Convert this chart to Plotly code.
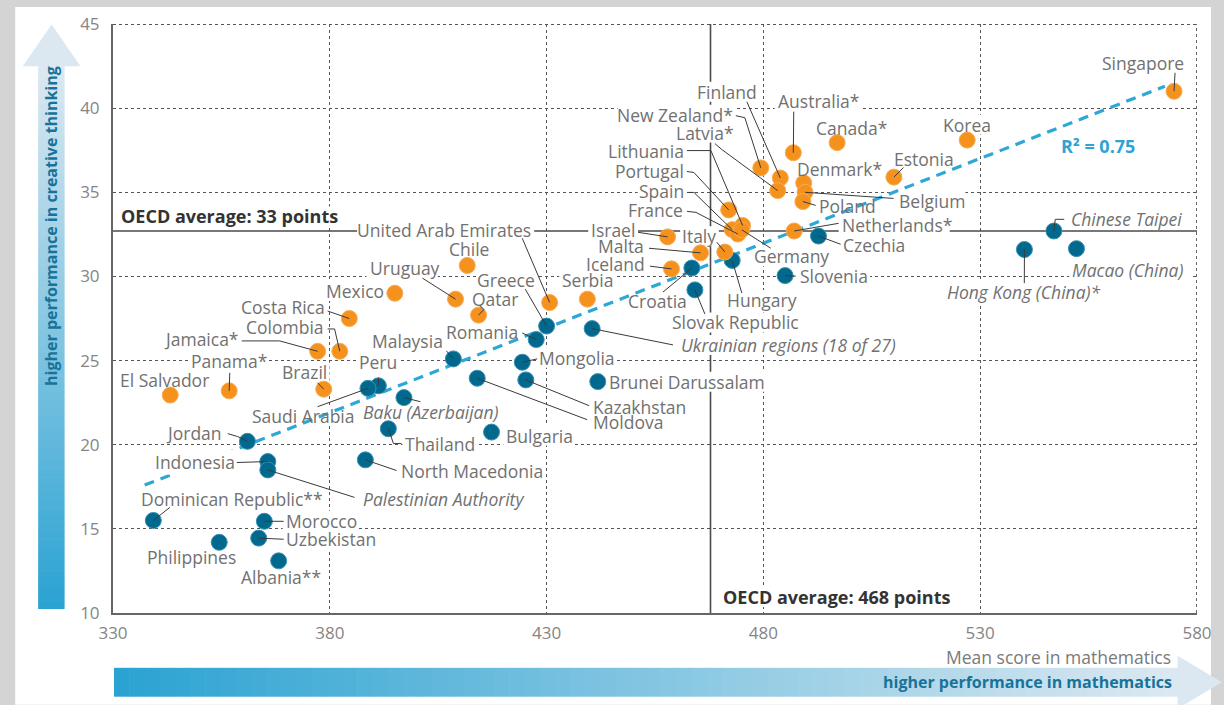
import plotly.graph_objects as go

# ---------------- data ----------------
above_names = ["Singapore", "Korea", "Canada*", "Estonia", "Australia*", "Finland",
               "New Zealand*", "Latvia*", "Denmark*", "Belgium", "Poland", "Portugal",
               "Lithuania", "Spain", "France", "Germany", "Israel", "Italy", "Malta",
               "Iceland", "Netherlands*", "Serbia", "United Arab Emirates", "Chile",
               "Uruguay", "Qatar", "Mexico", "Costa Rica", "Colombia", "Jamaica*",
               "Brazil", "Panama*", "El Salvador"]
above_math = [574.7, 527.0, 497.0, 510.1, 486.9, 483.9,
              479.4, 483.3, 489.3, 489.6, 489.1, 472.0,
              475.2, 472.8, 474.1, 475.0, 457.9, 471.1, 465.5,
              458.8, 487.1, 439.4, 430.7, 411.7,
              409.0, 414.3, 395.0, 384.5, 382.3, 377.2,
              378.6, 356.8, 343.2]
above_creative = [41.0, 38.1, 37.95, 35.9, 37.35, 35.85,
                  36.45, 35.1, 35.55, 35.0, 34.45, 33.95,
                  33.03, 32.78, 32.52, 32.77, 32.35, 31.45, 31.4,
                  30.45, 32.7, 28.65, 28.45, 30.65,
                  28.65, 27.7, 29.0, 27.5, 25.55, 25.55,
                  23.3, 23.2, 22.95]

other_names = ["Chinese Taipei", "Hong Kong (China)*", "Macao (China)", "Czechia",
               "Slovenia", "Hungary", "Croatia", "Slovak Republic",
               "Ukrainian regions (18 of 27)", "Greece", "Romania", "Malaysia",
               "Mongolia", "Kazakhstan", "Moldova", "Brunei Darussalam", "Bulgaria",
               "Baku (Azerbaijan)", "Peru", "Saudi Arabia", "Thailand",
               "North Macedonia", "Jordan", "Indonesia", "Palestinian Authority",
               "Dominican Republic**", "Morocco", "Uzbekistan", "Philippines",
               "Albania**"]
other_math = [547.0, 540.2, 552.2, 492.7,
              485.0, 472.8, 463.5, 464.2,
              440.5, 430.0, 427.6, 408.5,
              424.4, 425.2, 414.0, 441.8, 417.3,
              397.1, 391.2, 388.8, 393.5,
              388.2, 361.0, 365.7, 365.7,
              339.3, 364.9, 363.6, 354.5,
              368.2]
other_creative = [32.7, 31.6, 31.65, 32.4,
                  30.05, 30.95, 30.5, 29.2,
                  26.9, 27.05, 26.25, 25.1,
                  24.9, 23.85, 23.95, 23.75, 20.75,
                  22.8, 23.5, 23.35, 20.95,
                  19.1, 20.2, 19.0, 18.5,
                  15.5, 15.45, 14.45, 14.2,
                  13.1]

italic_names = {"Chinese Taipei", "Hong Kong (China)*", "Macao (China)",
                "Ukrainian regions (18 of 27)", "Baku (Azerbaijan)",
                "Palestinian Authority"}

trend_math = [337.3, 572.6]
trend_creative = [17.6, 41.3]
r_squared = 0.75

oecd_math = 468
oecd_math_line = 467.8
oecd_creative = 33
oecd_creative_line = 32.7

x_ticks = [330, 380, 430, 480, 530, 580]
y_ticks = [10, 15, 20, 25, 30, 35, 40, 45]

# ---------------- layout geometry ----------------
W, H = 1224, 705
L, R, T, B = 113, 25, 22, 92
PW, PH = W - L - R, H - T - B
XMIN, XMAX, YMIN, YMAX = 330, 580, 10, 45


def px2x(px):
    return XMIN + (px - L) / PW * (XMAX - XMIN)


def py2y(py):
    return YMAX - (py - T) / PH * (YMAX - YMIN)


def px2p(px):
    return (px - L) / PW


def py2p(py):
    return (T + PH - py) / PH


def text_width(s, size, bold=False):
    w = 0.0
    for ch in s:
        if ch in "il.,:;'!|":
            w += 0.26
        elif ch in "jI ":
            w += 0.27
        elif ch in "ft()":
            w += 0.34
        elif ch == "r":
            w += 0.41
        elif ch == "*":
            w += 0.55
        elif ch in "mM":
            w += 0.92
        elif ch in "wW":
            w += 0.8
        elif ch.isdigit():
            w += 0.57
        elif ch.isupper():
            w += 0.65
        else:
            w += 0.56
    return w * size * (1.06 if bold else 1.0)


ORANGE = "#F5921E"
BLUE = "#01698E"
TREND = "#2DA7D6"
LABEL_COLOR = "#717171"
LEADER = "#3a3a3a"
FONT = "Open Sans"
LABEL_SIZE = 17.5

fig = go.Figure()

# trend line
fig.add_trace(go.Scatter(x=trend_math, y=trend_creative, mode="lines",
                         line=dict(color=TREND, width=3.2, dash="10px,7px"),
                         hoverinfo="skip"))
fig.add_trace(go.Scatter(x=other_math, y=other_creative, mode="markers",
                         marker=dict(color=BLUE, size=16,
                                     line=dict(color="#3c8fb0", width=1)),
                         text=other_names, hoverinfo="text"))
fig.add_trace(go.Scatter(x=above_math, y=above_creative, mode="markers",
                         marker=dict(color=ORANGE, size=16,
                                     line=dict(color="#f7ab55", width=1)),
                         text=above_names, hoverinfo="text"))

points = {}
for n, xv, yv in zip(above_names, above_math, above_creative):
    points[n] = (xv, yv)
for n, xv, yv in zip(other_names, other_math, other_creative):
    points[n] = (xv, yv)

# label placement in reference pixels: (x, y, xanchor, leader points)
label_pos = {
    "Singapore": (1187, 61, "right", [(1177, 71)]),
    "Korea": (969, 123, "center", []),
    "Canada*": (853, 126, "center", []),
    "Estonia": (894, 157, "left", [(905, 166)]),
    "Australia*": (778, 99, "left", [(795, 110)]),
    "Finland": (759, 90, "right", [(748, 100)]),
    "New Zealand*": (735, 113, "right", [(737, 114), (746, 116)]),
    "Latvia*": (736, 131, "right", [(716, 142), (723, 148)]),
    "Lithuania": (686, 149, "right", [(688, 149), (712, 149)]),
    "Portugal": (686, 169, "right", [(688, 170), (695, 171)]),
    "Spain": (686, 190, "right", [(688, 191), (695, 191)]),
    "France": (685, 209, "right", [(688, 210), (697, 211)]),
    "Germany": (754, 255, "left", [(772, 247)]),
    "Israel": (637, 229, "right", [(639, 231)]),
    "Italy": (718, 235, "right", [(718, 241)]),
    "Malta": (646, 245, "right", [(650, 247)]),
    "Iceland": (647, 263, "right", [(651, 265)]),
    "Croatia": (628, 300, "left", [(664, 291)]),
    "Slovak Republic": (672, 321.5, "left", [(706, 313)]),
    "Hungary": (727, 299, "left", [(743, 292)]),
    "Slovenia": (800, 275, "left", [(797, 275)]),
    "Czechia": (843, 244, "left", [(842, 243)]),
    "Netherlands*": (842, 224, "left", [(840, 222)]),
    "Belgium": (899, 200, "left", [(895, 197)]),
    "Poland": (819, 205, "left", [(817, 204)]),
    "Denmark*": (797, 167, "left", []),
    "Chinese Taipei": (1072, 218, "left", [(1066, 218), (1057, 218)]),
    "Macao (China)": (1073, 268.5, "left", []),
    "Hong Kong (China)*": (948, 291, "left", [(1026, 282)]),
    "Ukrainian regions (18 of 27)": (681, 344, "left", [(674, 344)]),
    "Brunei Darussalam": (609, 381, "left", []),
    "Kazakhstan": (593, 406, "left", [(590, 405)]),
    "Moldova": (593, 421.5, "left", [(588, 419)]),
    "Bulgaria": (506, 435, "left", []),
    "Mongolia": (539, 357, "left", [(538, 358)]),
    "Romania": (520, 331.5, "right", [(523, 332)]),
    "Greece": (537, 279, "right", [(526, 288)]),
    "United Arab Emirates": (533, 228.5, "right", [(523, 237)]),
    "Serbia": (562, 279, "left", []),
    "Chile": (470, 248, "center", []),
    "Uruguay": (369, 266.5, "left", [(423, 277)]),
    "Qatar": (472, 297.5, "left", [(485, 308)]),
    "Mexico": (385, 290, "right", []),
    "Costa Rica": (326, 305.5, "right", [(328, 310)]),
    "Colombia": (325, 326, "right", [(328, 328), (335, 328)]),
    "Jamaica*": (240, 338, "right", [(242, 340), (280, 340)]),
    "Panama*": (229, 360, "center", [(230, 372)]),
    "El Salvador": (165, 379, "center", []),
    "Brazil": (328, 371.5, "right", [(318, 382)]),
    "Malaysia": (445, 340.5, "right", [(447, 350)]),
    "Peru": (378, 361.5, "center", [(379, 377)]),
    "Saudi Arabia": (304, 415, "center", [(318, 406)]),
    "Baku (Azerbaijan)": (362, 411, "left", [(421, 401)]),
    "Thailand": (405, 443, "left", [(402, 443), (394, 443)]),
    "North Macedonia": (401, 471, "left", [(397, 470)]),
    "Jordan": (223, 432.5, "right", [(228, 433), (238, 436)]),
    "Indonesia": (236, 461, "right", [(237, 462)]),
    "Palestinian Authority": (362, 498.5, "left", [(355, 497)]),
    "Dominican Republic**": (140, 499, "left", [(170, 507)]),
    "Morocco": (285, 520.5, "left", [(284, 521)]),
    "Uzbekistan": (285, 539, "left", [(284, 539)]),
    "Philippines": (192, 557, "center", []),
    "Albania**": (281, 576.5, "center", []),
}
# labels whose own box must also hide the dashed trend line
trend_masking = {"Indonesia"}

# ---------------- background panel & gradient arrows ----------------
fig.add_shape(type="rect", xref="paper", yref="paper",
              x0=px2p(15), x1=px2p(1213), y0=py2p(705), y1=py2p(5),
              fillcolor="white", line_width=0, layer="below")


def lerp(c1, c2, t):
    a = [int(c1[i:i + 2], 16) for i in (1, 3, 5)]
    b = [int(c2[i:i + 2], 16) for i in (1, 3, 5)]
    return "rgb(%d,%d,%d)" % tuple(round(a[k] + (b[k] - a[k]) * t) for k in range(3))


LIGHT = "#dce8f1"
DEEP = "#2aa3d2"
NSL = 70
# vertical arrow (creative thinking)
vt, vb, vl, vr = 64, 609, 38, 64.5
for i in range(NSL):
    y0 = vt + (vb - vt) * i / NSL
    y1 = vt + (vb - vt) * (i + 1) / NSL + 0.6
    fig.add_shape(type="rect", xref="paper", yref="paper",
                  x0=px2p(vl), x1=px2p(vr), y0=py2p(min(y1, vb)), y1=py2p(y0),
                  fillcolor=lerp(LIGHT, DEEP, (i + 0.5) / NSL), line_width=0)
fig.add_shape(type="path", xref="paper", yref="paper",
              path="M %f,%f L %f,%f L %f,%f Z" % (px2p(22.5), py2p(64.5), px2p(51.5), py2p(22.5),
                                                 px2p(80.5), py2p(64.5)),
              fillcolor=LIGHT, line_width=0)
# horizontal arrow (mathematics)
hl, hr, ht, hb = 114, 1180, 668, 697
for i in range(NSL):
    x0 = hl + (hr - hl) * i / NSL
    x1 = hl + (hr - hl) * (i + 1) / NSL + 0.6
    fig.add_shape(type="rect", xref="paper", yref="paper",
                  x0=px2p(x0), x1=px2p(min(x1, hr)), y0=py2p(hb), y1=py2p(ht),
                  fillcolor=lerp(DEEP, LIGHT, (i + 0.5) / NSL), line_width=0)
fig.add_shape(type="path", xref="paper", yref="paper",
              path="M %f,%f L %f,%f L %f,%f Z" % (px2p(1179.5), py2p(656), px2p(1224), py2p(682.5),
                                                 px2p(1179.5), py2p(709)),
              fillcolor=LIGHT, line_width=0)

# ---------------- reference lines (between grid and markers) ----------------
fig.add_shape(type="line", xref="x", yref="y", x0=XMIN, x1=XMAX,
              y0=oecd_creative_line, y1=oecd_creative_line,
              line=dict(color="#4a4a4a", width=1.6), layer="between")
fig.add_shape(type="line", xref="x", yref="y", x0=oecd_math_line, x1=oecd_math_line,
              y0=YMIN, y1=YMAX, line=dict(color="#4a4a4a", width=1.6), layer="between")
# top / right frame (dotted)
fig.add_shape(type="line", xref="x", yref="y", x0=XMIN, x1=XMAX, y0=YMAX, y1=YMAX,
              line=dict(color="#555555", width=1.8, dash="dot"))
fig.add_shape(type="line", xref="x", yref="y", x0=XMAX, x1=XMAX, y0=YMIN, y1=YMAX,
              line=dict(color="#555555", width=1.8, dash="dot"))


def mask(px, py, anchor, width, half_h=10, pad=2):
    if anchor == "left":
        a, b = px - pad, px + width + pad
    elif anchor == "right":
        a, b = px - width - pad, px + pad
    else:
        a, b = px - width / 2 - pad, px + width / 2 + pad
    fig.add_shape(type="rect", xref="x", yref="y",
                  x0=px2x(a), x1=px2x(b), y0=py2y(py + half_h), y1=py2y(py - half_h),
                  fillcolor="white", line_width=0, layer="between")


# ---------------- labels and leaders ----------------
for name, (lx, ly, anc, leader) in label_pos.items():
    pxv, pyv = points[name]
    txt = "<i>%s</i>" % name if name in italic_names else name
    mask(lx, ly, anc, text_width(name, LABEL_SIZE))
    if leader:
        pts = [(px2x(a), py2y(b)) for a, b in leader] + [(pxv, pyv)]
        path = "M " + " L ".join("%f,%f" % p for p in pts)
        fig.add_shape(type="path", xref="x", yref="y", path=path,
                      line=dict(color=LEADER, width=1))
    fig.add_annotation(x=px2x(lx), y=py2y(ly), xref="x", yref="y", text=txt,
                       showarrow=False, xanchor=anc, yanchor="middle",
                       font=dict(family=FONT, size=LABEL_SIZE, color=LABEL_COLOR),
                       bgcolor="white" if name in trend_masking else "rgba(0,0,0,0)",
                       borderpad=0)

oecd_y_text = "OECD average: %d points" % oecd_creative
oecd_x_text = "OECD average: %d points" % oecd_math
mask(119, 215, "left", text_width(oecd_y_text, 18, True))
mask(722, 597, "left", text_width(oecd_x_text, 18, True))
fig.add_annotation(x=px2x(119), y=py2y(215), xref="x", yref="y",
                   text="<b>%s</b>" % oecd_y_text,
                   showarrow=False, xanchor="left", yanchor="middle",
                   font=dict(family=FONT, size=18, color="#333333"))
fig.add_annotation(x=px2x(722), y=py2y(597), xref="x", yref="y",
                   text="<b>%s</b>" % oecd_x_text,
                   showarrow=False, xanchor="left", yanchor="middle",
                   font=dict(family=FONT, size=18, color="#333333"))
fig.add_annotation(x=px2x(1061), y=py2y(144), xref="x", yref="y",
                   text="<b>R² = %.2f</b>" % r_squared,
                   showarrow=False, xanchor="left", yanchor="middle",
                   font=dict(family=FONT, size=18, color="#2EA3D2"))

# arrow texts
fig.add_annotation(x=px2p(51.5), y=py2p(225), xref="paper", yref="paper",
                   text="<b>higher performance in creative thinking</b>",
                   showarrow=False, textangle=-90, xanchor="center", yanchor="middle",
                   font=dict(family=FONT, size=16, color="#17739A"))
fig.add_annotation(x=px2p(1176), y=py2p(682), xref="paper", yref="paper",
                   text="<b>higher performance in mathematics</b>",
                   showarrow=False, xanchor="right", yanchor="middle",
                   font=dict(family=FONT, size=16, color="#17739A"))
fig.add_annotation(x=px2p(1175), y=py2p(657), xref="paper", yref="paper",
                   text="Mean score in mathematics",
                   showarrow=False, xanchor="right", yanchor="middle",
                   font=dict(family=FONT, size=17.5, color="#7a7a7a"))

fig.update_layout(
    width=W, height=H,
    margin=dict(l=L, r=R, t=T, b=B, pad=0),
    paper_bgcolor="#d4d4d4",
    plot_bgcolor="white",
    showlegend=False,
    font=dict(family=FONT, color=LABEL_COLOR),
    xaxis=dict(range=[XMIN, XMAX], tickvals=x_ticks, ticks="",
               showgrid=True, gridcolor="#555555", gridwidth=1, griddash="dot",
               showline=True, linecolor="#666666", linewidth=2, zeroline=False,
               tickfont=dict(family=FONT, size=17, color="#858585"),
               ticklabelstandoff=4, fixedrange=True),
    yaxis=dict(range=[YMIN, YMAX], tickvals=y_ticks, ticks="",
               showgrid=True, gridcolor="#555555", gridwidth=1, griddash="dot",
               showline=True, linecolor="#666666", linewidth=2, zeroline=False,
               tickfont=dict(family=FONT, size=17, color="#858585"),
               ticklabelstandoff=8, fixedrange=True),
)

fig.write_html("out.html",
               config={"displayModeBar": False},
               post_script="document.body.style.margin='0';"
                           "document.body.style.background='#d4d4d4';")
